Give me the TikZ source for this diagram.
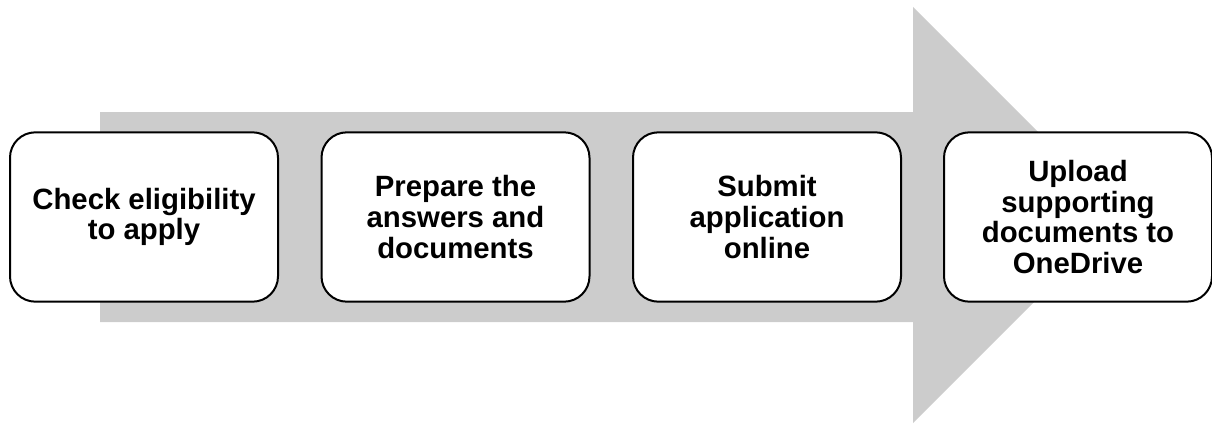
\documentclass[tikz,border=0pt]{standalone}
\usepackage{fontspec}
\setmainfont{Liberation Sans}
\usetikzlibrary{positioning}
\definecolor{bandColor}{HTML}{CCCCCC}
\newcommand{\steptext}{\bfseries\fontsize{22}{23}\selectfont}

\begin{document}
\begin{tikzpicture}[x=0.75pt,y=0.75pt,
		stepbox/.style={draw, line width=1.5pt, rounded corners=19pt, fill=white,
			minimum width=201pt, minimum height=127pt, align=center,
			font=\steptext, outer sep=0}]
	\useasboundingbox (0,0) rectangle (1212,426);

	% big gray arrow behind the steps
	\fill[bandColor] (100,104) -- (913,104) -- (913,3) -- (1121,211)
		-- (913,419) -- (913,314) -- (100,314) -- cycle;

	\node[stepbox] (s1) at (144,209) {Check eligibility\\to apply};
	\node[stepbox] (s2) at (455.5,209) {Prepare the\\answers and\\documents};
	\node[stepbox] (s3) at (767,209) {Submit\\application\\online};
	\node[stepbox] (s4) at (1078,209) {Upload\\supporting\\documents to\\OneDrive};

\end{tikzpicture}
\end{document}
